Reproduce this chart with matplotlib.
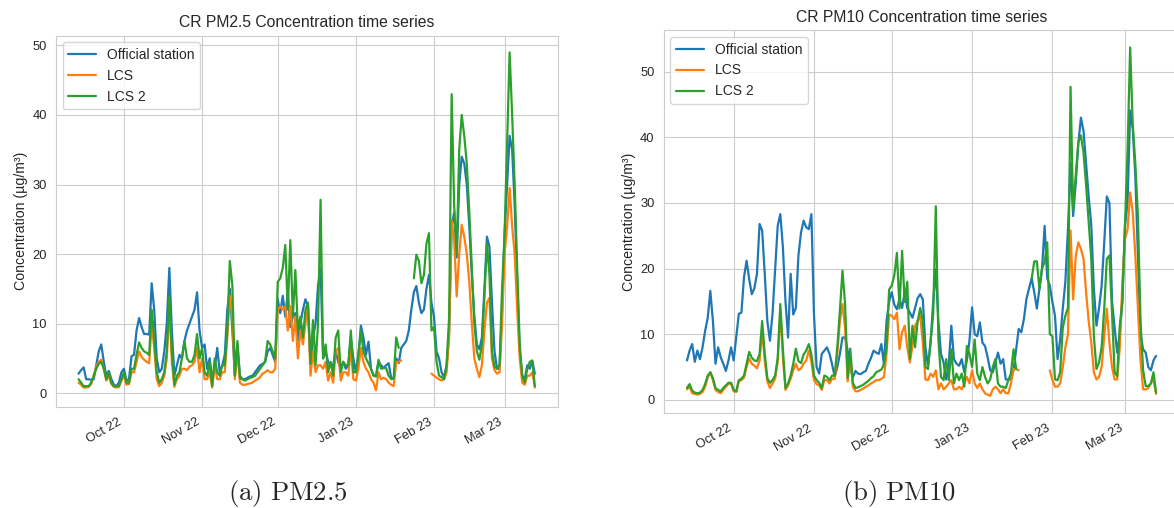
import numpy as np
import pandas as pd
import matplotlib
matplotlib.use('Agg')
import matplotlib.pyplot as plt
import matplotlib.dates as mdates
import seaborn as sns

sns.set_style('whitegrid')
plt.rcParams['font.family'] = ['Liberation Sans', 'DejaVu Sans']
plt.rcParams['mathtext.fontset'] = 'cm'

nan = np.nan

# daily means, 13 Sep 2022 - 13 Mar 2023
days = pd.date_range('2022-09-13', '2023-03-13', freq='D')

# ---------------- PM2.5 ----------------
pm25_station = (
    [2.8, 3.3, 3.7, 2.0, 2.0, 1.9, 2.0, 4.0, 6.0, 7.0, 4.5, 2.5, 3.2, 2.0, 1.2, 1.0, 1.5, 3.0]
    + [3.5, 1.8, 2.0, 5.3, 5.5, 9.0, 10.8, 9.5, 8.5, 8.5, 8.4, 15.8, 12.0, 5.0, 3.0, 3.5,
       6.0, 10.0, 18.0, 9.0, 2.5, 4.0, 5.5, 5.0, 7.5, 9.0, 10.0, 11.0, 12.0, 14.5, 9.0]
    + [6.5, 7.0, 3.5, 5.0, 2.0, 3.5, 6.5, 3.0, 4.0, 5.5, 12.0, 15.0, 9.0, 2.5, 7.0,
       2.5, 2.0, 2.0, 2.2, 2.4, 2.5, 3.0, 3.5, 4.0, 4.2, 4.5, 6.0, 6.5, 5.5, 4.5]
    + [13.5, 11.5, 14.0, 11.0, 14.5, 9.5, 11.0, 11.5, 7.5, 10.0, 12.0, 13.5, 12.5, 4.0, 8.0,
       10.0, 15.5, 18.0, 5.0, 6.0, 4.5, 4.0, 4.0, 6.0, 4.5, 3.5, 4.5, 3.5, 4.0, 8.0, 5.0]
    + [3.0, 5.5, 9.7, 8.0, 5.5, 7.4, 3.5, 2.6, 2.4, 4.5, 4.0, 3.6, 4.0, 4.3, 2.2, 2.1,
       5.0, 4.3, 6.5, 7.0, 7.5, 9.0, 12.0, 14.5, 15.4, 13.0, 11.5, 12.0, 15.0, 17.0, 13.0]
    + [11.0, 6.0, 5.0, 3.0, 2.3, 4.0, 9.0, 24.0, 26.0, 19.5, 30.0, 34.0, 33.0, 30.0,
       24.0, 17.0, 11.0, 7.0, 6.3, 8.0, 15.0, 22.5, 21.0, 13.0, 6.0, 3.5, 3.5, 12.0]
    + [23.0, 30.0, 37.0, 35.0, 27.0, 16.0, 6.0, 2.5, 2.0, 4.0, 3.5, 4.6, 2.8]
)
pm25_lcs = (
    [1.5, 1.2, 0.8, 0.8, 0.9, 1.3, 2.5, 3.8, 4.5, 4.8, 3.5, 1.8, 2.5, 1.3, 0.9, 0.8, 0.9, 1.8]
    + [2.5, 1.2, 1.3, 3.0, 3.0, 4.5, 6.0, 5.2, 4.8, 4.5, 4.3, 10.0, 6.5, 2.0, 1.0, 1.5,
       2.5, 5.0, 12.5, 4.5, 0.9, 2.0, 2.5, 3.5, 3.5, 3.3, 3.8, 4.0, 4.5, 6.5, 3.0]
    + [5.0, 2.0, 2.0, 3.0, 0.8, 4.0, 2.0, 2.0, 3.0, 3.0, 8.0, 14.0, 11.0, 2.0, 6.0,
       1.5, 1.2, 1.2, 1.3, 1.4, 1.5, 1.8, 2.0, 2.3, 2.8, 3.0, 3.3, 3.0, 3.0, 3.5]
    + [12.0, 12.5, 12.0, 12.5, 9.0, 12.5, 7.5, 11.0, 5.0, 9.0, 7.0, 10.0, 12.5, 2.5, 6.0,
       3.0, 4.0, 4.0, 3.5, 4.5, 1.8, 3.0, 1.5, 6.0, 6.5, 1.8, 3.0, 3.0, 2.5, 6.5, 2.0]
    + [1.8, 3.5, 6.5, 4.5, 3.5, 3.0, 2.0, 1.5, 0.4, 3.0, 2.0, 2.2, 2.0, 1.5, 1.2, 1.0,
       4.5, 4.5, 4.7, nan, nan, nan, nan, nan, nan, nan, nan, nan, nan, nan, 2.8]
    + [2.5, 2.2, 2.0, 1.8, 2.0, 3.0, 8.0, 24.9, 22.0, 13.9, 20.0, 24.2, 22.5, 20.0,
       16.0, 10.0, 5.0, 3.5, 2.3, 4.0, 9.0, 13.0, 13.7, 5.0, 3.3, 2.8, 3.0, 10.0]
    + [20.0, 24.0, 29.5, 24.0, 20.0, 12.0, 5.0, 1.5, 1.2, 2.5, 2.5, 3.0, 0.8]
)
pm25_lcs2 = (
    [2.0, 1.5, 1.0, 1.0, 1.0, 1.5, 2.5, 3.5, 4.2, 4.5, 3.5, 2.0, 3.0, 1.5, 1.0, 1.0, 1.0, 2.0]
    + [3.0, 1.5, 1.5, 3.5, 3.5, 5.5, 7.3, 6.5, 6.0, 5.8, 5.5, 12.0, 8.0, 3.0, 1.5, 2.0,
       3.0, 6.0, 14.0, 6.0, 1.2, 2.5, 3.0, 5.0, 7.5, 5.0, 4.5, 4.5, 5.5, 8.5, 5.0]
    + [6.5, 3.0, 2.5, 4.5, 1.0, 5.0, 3.0, 2.5, 4.0, 4.0, 9.0, 19.0, 15.5, 2.5, 7.5,
       2.2, 2.0, 1.8, 2.0, 2.2, 2.3, 2.5, 3.0, 3.5, 4.0, 4.5, 7.5, 7.0, 6.0, 5.0]
    + [16.0, 16.5, 18.0, 21.3, 12.0, 22.0, 11.0, 17.7, 9.0, 11.0, 8.0, 12.0, 13.0, 4.2, 10.5,
       4.0, 10.0, 27.8, 5.0, 7.0, 3.0, 4.5, 2.5, 8.0, 9.0, 3.0, 4.5, 4.0, 4.0, 9.0, 3.0]
    + [3.0, 5.5, 9.0, 6.0, 5.0, 4.3, 3.5, 2.5, 2.4, 4.8, 3.5, 3.6, 3.6, 2.5, 2.0, 2.1,
       8.0, 6.5, nan, nan, nan, nan, nan, 16.5, 19.9, 19.0, 15.8, 17.0, 21.5, 23.0, 9.0]
    + [9.5, 4.5, 2.5, 2.3, 2.0, 4.0, 11.0, 43.0, 27.0, 20.0, 35.0, 40.0, 37.0, 33.0,
       26.0, 18.0, 10.0, 6.0, 4.8, 7.0, 14.0, 21.5, 17.0, 6.0, 3.8, 3.5, 4.0, 15.0]
    + [23.0, 36.0, 49.0, 40.0, 30.0, 18.0, 7.0, 2.5, 1.5, 3.5, 4.5, 4.7, 1.0]
)

# ---------------- PM10 ----------------
pm10_station = (
    [6.0, 7.5, 8.5, 5.8, 7.5, 6.2, 8.0, 10.5, 12.5, 16.6, 12.0, 5.5, 8.0, 6.5, 5.5, 4.4, 6.0, 8.0]
    + [6.0, 9.5, 13.1, 13.3, 18.7, 21.2, 18.4, 16.1, 17.0, 19.2, 26.8, 25.8, 19.2, 12.0, 9.0,
       13.1, 19.7, 26.5, 28.3, 23.3, 15.0, 9.5, 19.2, 13.0, 14.0, 22.0, 25.5, 27.3, 26.3, 26.0, 28.3]
    + [13.0, 5.0, 4.0, 7.0, 7.5, 8.0, 7.0, 5.4, 3.5, 5.0, 7.0, 9.5, 9.5, 7.5, 5.0,
       3.4, 4.4, 4.0, 3.9, 4.2, 4.4, 5.5, 6.4, 7.5, 7.2, 7.0, 8.5, 5.4, 12.0, 15.0]
    + [16.4, 14.5, 13.8, 15.4, 14.0, 16.4, 14.0, 13.3, 12.5, 14.0, 15.5, 16.1, 15.3, 8.0, 5.2,
       8.7, 15.0, 19.9, 12.0, 7.0, 5.7, 3.1, 5.5, 11.3, 6.2, 5.5, 5.2, 6.2, 4.2, 6.0, 9.0]
    + [14.1, 10.0, 9.7, 11.8, 8.7, 8.2, 6.5, 4.5, 4.2, 5.7, 7.2, 5.5, 6.2, 3.1, 3.1, 3.1,
       4.5, 7.7, 10.8, 10.3, 12.3, 15.4, 17.0, 18.5, 16.4, 13.9, 16.9, 20.0, 26.5, 18.5, 17.4]
    + [14.9, 12.8, 6.2, 9.2, 13.9, 18.0, 26.0, 36.0, 28.0, 33.0, 39.0, 43.0, 41.0, 36.0,
       31.0, 26.6, 16.9, 11.3, 14.0, 17.4, 24.0, 31.0, 30.0, 15.0, 11.0, 7.2, 10.0, 15.0]
    + [26.5, 30.0, 44.1, 41.3, 34.0, 22.0, 10.0, 7.7, 7.2, 5.0, 4.5, 6.0, 6.7]
)
pm10_lcs = (
    [1.6, 2.0, 1.0, 0.9, 0.8, 0.9, 1.2, 2.0, 3.4, 4.2, 3.0, 1.5, 1.2, 1.0, 1.5, 2.0, 2.4, 2.5]
    + [1.3, 1.2, 2.8, 3.0, 3.4, 5.0, 6.3, 5.5, 5.2, 4.8, 6.0, 10.5, 6.0, 2.8, 1.8,
       2.5, 3.2, 5.8, 13.5, 6.5, 1.5, 2.2, 3.2, 4.5, 5.5, 4.5, 4.8, 5.5, 6.0, 7.5, 5.8]
    + [3.0, 2.4, 2.2, 1.5, 3.0, 3.0, 2.5, 3.2, 3.2, 7.0, 12.0, 14.6, 11.0, 2.8, 6.5,
       2.0, 1.3, 1.3, 1.5, 1.7, 2.0, 2.2, 2.5, 2.7, 3.0, 3.0, 3.2, 3.5, 7.0, 13.0]
    + [12.8, 12.3, 13.3, 7.7, 10.3, 11.3, 8.0, 5.7, 8.2, 11.3, 12.0, 12.8, 8.7, 3.1, 3.0,
       4.0, 3.5, 4.5, 1.6, 2.5, 1.6, 2.0, 2.5, 3.0, 1.6, 1.6, 2.0, 1.6, 2.5, 3.5, 2.5]
    + [4.5, 2.5, 1.8, 2.5, 1.6, 1.0, 0.8, 0.6, 1.6, 2.0, 1.6, 1.0, 1.6, 1.0, 1.0, 2.5,
       4.7, 4.7, 4.5, nan, nan, nan, nan, nan, nan, nan, nan, nan, nan, nan, 4.5]
    + [3.0, 2.0, 2.0, 2.5, 5.0, 8.0, 10.0, 25.8, 15.3, 21.9, 24.0, 23.0, 21.5, 16.4,
       12.0, 8.7, 4.2, 3.1, 3.5, 5.0, 9.7, 13.9, 8.7, 5.0, 3.1, 3.1, 8.0, 18.0]
    + [24.5, 26.0, 31.6, 28.6, 22.0, 14.0, 6.0, 1.6, 1.6, 1.8, 2.5, 3.1, 0.9]
)
pm10_lcs2 = (
    [1.8, 2.4, 1.4, 1.1, 1.0, 1.1, 1.5, 2.4, 3.7, 4.2, 3.3, 1.8, 1.5, 1.3, 1.8, 2.2, 2.6, 2.6]
    + [1.5, 1.3, 3.0, 3.2, 3.7, 5.5, 7.3, 6.4, 6.0, 5.9, 7.0, 12.0, 7.0, 3.3, 2.6,
       3.0, 3.7, 6.4, 14.6, 7.8, 1.8, 2.5, 3.7, 5.5, 7.8, 5.9, 5.6, 6.9, 7.5, 8.5, 6.9]
    + [3.7, 3.0, 2.6, 1.8, 3.7, 3.5, 3.0, 3.7, 3.7, 8.0, 13.6, 19.7, 14.6, 3.3, 7.8,
       2.6, 1.8, 1.9, 2.1, 2.3, 2.6, 2.9, 3.3, 3.6, 4.2, 4.4, 4.6, 5.4, 8.0, 16.8]
    + [17.4, 19.0, 22.4, 13.9, 22.7, 14.9, 18.0, 6.2, 11.3, 8.0, 12.0, 14.0, 12.0, 5.0, 4.7,
       9.0, 13.0, 29.5, 9.2, 3.5, 3.0, 6.2, 3.0, 7.7, 2.5, 4.0, 3.0, 4.0, 2.0, 8.2, 7.0]
    + [5.0, 9.2, 4.0, 3.0, 5.0, 3.5, 2.5, 3.1, 5.0, 6.2, 2.5, 2.0, 2.0, 1.8, 3.0, 4.0,
       7.7, 4.7, nan, nan, nan, nan, nan, 18.5, 21.1, 21.1, 16.9, 20.0, 21.0, 24.0, 10.0]
    + [9.7, 3.1, 3.0, 4.2, 11.0, 12.8, 14.0, 47.7, 29.0, 34.2, 39.3, 40.3, 37.7, 32.7,
       27.0, 21.5, 9.7, 4.7, 5.7, 8.0, 13.9, 21.5, 22.0, 13.3, 4.2, 3.6, 11.3, 15.0]
    + [26.5, 38.0, 53.7, 42.0, 36.0, 28.0, 12.0, 4.5, 2.1, 2.1, 2.5, 4.2, 1.1]
)

fig = plt.figure(figsize=(11.74, 5.08), dpi=100)
ax1 = fig.add_axes([0.0475, 0.1984, 0.4275, 0.7317])
ax2 = fig.add_axes([0.5652, 0.1864, 0.4395, 0.7545])


def draw_panel(ax, station, lcs, lcs2, title):
    ax.plot(days, station, color='#1f77b4', lw=1.6, label='Official station')
    ax.plot(days, lcs, color='#ff7f0e', lw=1.6, label='LCS')
    ax.plot(days, lcs2, color='#2ca02c', lw=1.6, label='LCS 2')
    ax.set_title(title, fontsize=11.3, color='.15')
    ax.set_ylabel('Concentration (µg/m³)', fontsize=10.2, color='.15', labelpad=3)
    ax.xaxis.set_major_locator(mdates.MonthLocator())
    ax.xaxis.set_major_formatter(mdates.DateFormatter('%b %y'))
    ax.tick_params(labelsize=9.3, colors='.15', pad=3)
    for lab in ax.get_xticklabels():
        lab.set_rotation(30)
        lab.set_ha('right')
    ax.legend(loc='upper left', fontsize=10)


draw_panel(ax1, pm25_station, pm25_lcs, pm25_lcs2, 'CR PM2.5 Concentration time series')
draw_panel(ax2, pm10_station, pm10_lcs, pm10_lcs2, 'CR PM10 Concentration time series')

fig.text(287.7 / 1174, 8 / 508, r'$\mathrm{(a)\ PM2.5}$', fontsize=19.3,
         ha='center', va='baseline')
fig.text(899 / 1174, 8 / 508, r'$\mathrm{(b)\ PM10}$', fontsize=19.3,
         ha='center', va='baseline')

fig.savefig('out.png', dpi=100)
